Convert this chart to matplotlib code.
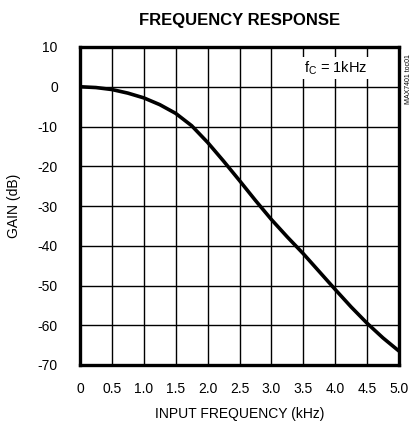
import numpy as np
import matplotlib
matplotlib.use('agg')
import matplotlib.pyplot as plt

plt.rcParams['font.family'] = ['Liberation Sans Narrow', 'Liberation Sans', 'DejaVu Sans']
plt.rcParams['axes.unicode_minus'] = False

# values
freq_khz = [0, 0.25, 0.5, 0.75, 1.0, 1.25, 1.5, 1.75, 2.0, 2.25, 2.5, 2.75,
            3.0, 3.25, 3.5, 3.75, 4.0, 4.25, 4.5, 4.75, 5.0]
gain_db = [0, -0.2, -0.7, -1.6, -2.8, -4.5, -6.7, -9.8, -14.0, -18.7, -23.6, -28.6,
           -33.4, -37.8, -42.0, -46.5, -51.0, -55.4, -59.5, -63.2, -66.5]
xticks = [0, 0.5, 1.0, 1.5, 2.0, 2.5, 3.0, 3.5, 4.0, 4.5, 5.0]
xticklabels = ['0', '0.5', '1.0', '1.5', '2.0', '2.5', '3.0', '3.5', '4.0', '4.5', '5.0']
yticks = [10, 0, -10, -20, -30, -40, -50, -60, -70]

fig = plt.figure(figsize=(4.13, 4.21), dpi=100)
ax = fig.add_axes([80/413, 1 - 365/421, 319/413, 318/421])

ax.plot(freq_khz, gain_db, color='black', lw=2.6, solid_capstyle='butt')
ax.set_xlim(0, 5.0)
ax.set_ylim(-70, 10)
ax.set_xticks(xticks)
ax.set_xticklabels(xticklabels)
ax.set_yticks(yticks)
ax.grid(True, color='black', lw=1.0)
ax.tick_params(length=0, labelsize=10, pad=12)
ax.tick_params(axis='y', pad=16)
for s in ax.spines.values():
    s.set_linewidth(2.4)

ax.set_xlabel('INPUT FREQUENCY (kHz)', fontsize=10, labelpad=8)
ax.set_ylabel('GAIN (dB)', fontsize=10, labelpad=12)
fig.text(0.5 * (80 + 399) / 413, 1 - 20/421, 'FREQUENCY RESPONSE', fontsize=12,
         fontweight='bold', ha='center', va='center')
ax.text(4.5, 4.7, r'f$_\mathregular{C}$ = 1kHz', fontsize=10.5, ha='right', va='center',
        bbox=dict(facecolor='white', edgecolor='none', pad=1.5), zorder=5)
fig.text(409/413, 1 - 79/421, 'MAX7401 toc01', fontsize=5, rotation=90,
         ha='center', va='center')

plt.savefig('out.png', dpi=100)
plt.close()
